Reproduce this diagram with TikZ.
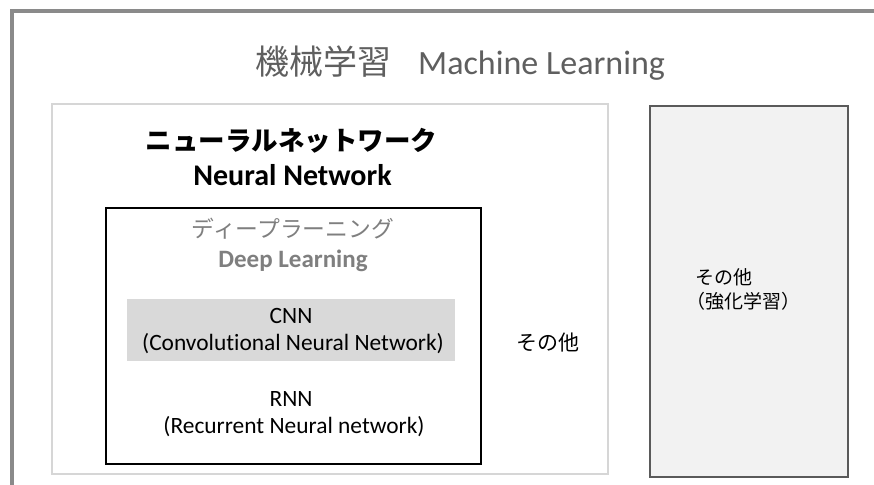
\documentclass[tikz,border=0pt]{standalone}
\usepackage{fontspec}
\setmainfont{Carlito}[Ligatures=NoCommon]
\newfontfamily\jp{Noto Sans CJK JP}
\definecolor{framegray}{HTML}{8A8A8A}
\definecolor{nngray}{HTML}{D6D6D6}
\definecolor{bandgray}{HTML}{D9D9D9}
\definecolor{panelfill}{HTML}{F2F2F2}
\definecolor{paneledge}{HTML}{5A5A5A}
\definecolor{titlegray}{HTML}{5F5F5F}
\definecolor{dlgray}{HTML}{7F7F7F}
\tikzset{
  boxnode/.style={rectangle, inner sep=0pt, outer sep=0pt},
  txt/.style={inner sep=0pt, anchor=base, text=black},
}
\begin{document}
\begin{tikzpicture}[x=1pt, y=-1pt]
  \useasboundingbox (0,0) rectangle (874,484);
  \clip (0,0) rectangle (874,484);
  \fill[white] (0,0) rectangle (874,484);

  % outer frame, running off the right and bottom edges
  \draw[framegray, line width=4pt] (12,520) -- (12,11) -- (900,11);

  % title
  \node[txt, text=titlegray, font=\fontsize{34}{40}\selectfont] (title) at (460,75)
    {{\jp 機械学習}\hspace{0.8em}Machine Learning};

  % neural network area
  \node[boxnode, draw=nngray, line width=2.5pt, minimum width=556pt, minimum height=370pt] (nn) at (330,289) {};
  \node[txt, font=\jp\bfseries\fontsize{26.5}{30}\selectfont] (nnja) at (291.5,150) {ニューラルネットワーク};
  \node[txt, font=\bfseries\fontsize{30}{34}\selectfont] (nnen) at (292.5,185) {Neural Network};

  % deep learning area
  \node[boxnode, draw=black, line width=2.5pt, minimum width=375pt, minimum height=256pt] (dl) at (293.5,336) {};
  \node[txt, text=dlgray, font=\jp\fontsize{22.8}{26}\selectfont] (dlja) at (293,237) {ディープラーニング};
  \node[txt, text=dlgray, font=\bfseries\fontsize{25}{29}\selectfont] (dlen) at (293,267) {Deep Learning};

  % CNN band
  \node[boxnode, fill=bandgray, minimum width=328pt, minimum height=62pt] (band) at (291,330) {};
  \node[txt, font=\fontsize{23.4}{27}\selectfont] (cnn) at (291,323.5) {CNN};
  \node[txt, font=\fontsize{23.4}{27}\selectfont] (cnnfull) at (293,350) {(Convolutional Neural Network)};

  % RNN
  \node[txt, font=\fontsize{23.4}{27}\selectfont] (rnn) at (291,406) {RNN};
  \node[txt, font=\fontsize{23.4}{27}\selectfont] (rnnfull) at (294,433) {(Recurrent Neural network)};

  % other methods inside neural networks
  \node[txt, font=\jp\fontsize{21}{24}\selectfont] (nnother) at (548,350) {その他};

  % right panel
  \node[boxnode, fill=panelfill, draw=paneledge, line width=1.1pt, minimum width=198pt, minimum height=371pt] (panel) at (749,291.5) {};
  \node[txt, anchor=base west, font=\jp\fontsize{19}{23}\selectfont] (rlother) at (695,284) {その他};
  \node[txt, anchor=base west, font=\jp\fontsize{19}{23}\selectfont] (rl) at (686,308) {（強化学習）};
\end{tikzpicture}
\end{document}
